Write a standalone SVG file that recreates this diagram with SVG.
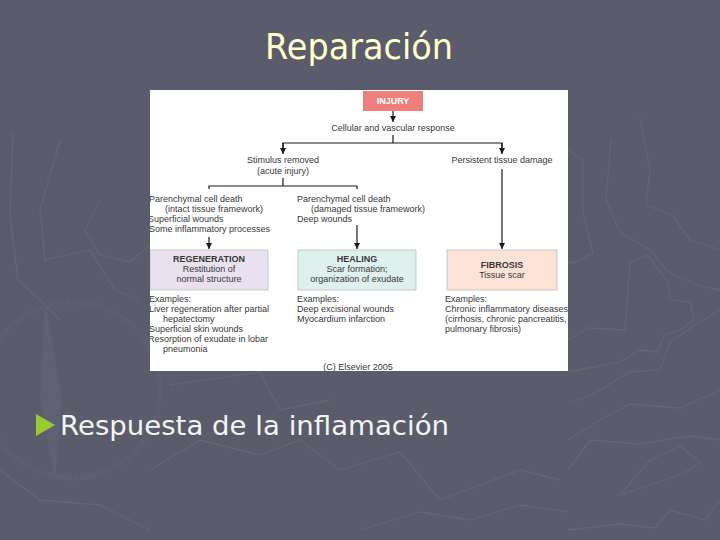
<svg xmlns="http://www.w3.org/2000/svg" width="720" height="540" viewBox="0 0 720 540">
<style>
.t{font-family:"Liberation Sans",Arial,sans-serif;font-size:9px;fill:#383838}
.c{text-anchor:middle}
.b{font-weight:bold}
.ln{stroke:#1a1a1a;stroke-width:1.2;fill:none}
.bg{stroke:#646676;stroke-width:1.3;fill:none}
.box{stroke:#bdbdbd;stroke-width:0.8}
</style>
<defs>
<marker id="ah" viewBox="0 0 10 10" refX="10" refY="5" markerWidth="6" markerHeight="6" markerUnits="userSpaceOnUse" orient="auto">
<path d="M0,0 L10,5 L0,10 z" fill="#1a1a1a"/>
</marker>
<clipPath id="clipW"><rect x="150" y="90" width="418" height="281"/></clipPath>
</defs>
<rect width="720" height="540" fill="#5a5c6b"/>
<g id="background-lines">
<polyline class="bg" points="611,140 606,200 620,232 650,250 668,272 700,286 720,290"/>
<polyline class="bg" points="640,118 650,170 646,205 672,215 690,240 720,250"/>
<polyline class="bg" points="568,150 583,160 583,213 593,253 573,263 568,262"/>
<polyline class="bg" points="568,340 588,328 625,330 630,262 648,255 668,282 670,300 690,302 694,320 680,330 664,335 658,352 640,350 620,362 568,372"/>
<polyline class="bg" points="720,310 700,322 670,342 660,370 630,372 590,396 570,402"/>
<polyline class="bg" points="720,390 680,408 630,404 600,420 568,440"/>
<polyline class="bg" points="568,470 590,440 640,444 690,436 720,440"/>
<polyline class="bg" points="620,495 650,460 680,446 700,462 690,470 660,482 620,495"/>
<polyline class="bg" points="568,530 620,524 655,528 670,510 705,520 720,500"/>
<polyline class="bg" points="13,133 10,215 18,280 40,300 60,320"/>
<polyline class="bg" points="60,140 40,210 45,260 90,250 115,290 140,300"/>
<polyline class="bg" points="100,200 85,230 100,255 130,262 150,245"/>
<polyline class="bg" points="150,470 200,440 260,455 300,440 340,470 400,452 440,500 520,470 560,480"/>
<polyline class="bg" points="170,385 260,372 280,410 330,400"/>
<polyline class="bg" points="360,530 420,512 470,520 520,505 568,512"/>
<polyline class="bg" points="0,470 40,500 100,505 150,530"/>
<circle cx="72" cy="390" r="88" fill="none" stroke="#636575" stroke-width="5" stroke-dasharray="1 2"/>
<path d="M45,300 L62,400 L55,480 L40,400 z" fill="#5f6170"/>
</g>
<text x="359" y="59" font-family="'DejaVu Sans',Tahoma,sans-serif" font-size="35" fill="#ffffcc" text-anchor="middle" textLength="188" lengthAdjust="spacingAndGlyphs">Reparación</text>
<path d="M36,414 L55,425 L36,436 z" fill="#99cc33"/>
<text x="60" y="435" font-family="'DejaVu Sans',Tahoma,sans-serif" font-size="27" fill="#f4f4f4" textLength="389" lengthAdjust="spacingAndGlyphs">Respuesta de la inflamación</text>
<rect x="150" y="90" width="418" height="281" fill="#ffffff"/>
<g clip-path="url(#clipW)">
<g id="injury">
<rect x="363" y="91" width="60" height="20" fill="#ef7f7c"/>
<text class="t c b" x="393" y="104" style="fill:#ffffff">INJURY</text>
</g>
<g id="cellular"><text class="t c" x="393" y="131">Cellular and vascular response</text></g>
<g id="stimulus"><text class="t c" x="283" y="163">Stimulus removed</text><text class="t c" x="283" y="174">(acute injury)</text></g>
<g id="persistent"><text class="t c" x="502" y="163">Persistent tissue damage</text></g>
<g id="intact">
<text class="t" x="149" y="202">Parenchymal cell death</text>
<text class="t" x="165" y="212">(intact tissue framework)</text>
<text class="t" x="148" y="222">Superficial wounds</text>
<text class="t" x="149" y="232">Some inflammatory processes</text>
</g>
<g id="damaged">
<text class="t" x="297" y="202">Parenchymal cell death</text>
<text class="t" x="311" y="212">(damaged tissue framework)</text>
<text class="t" x="297" y="222">Deep wounds</text>
</g>
<g id="regeneration">
<rect class="box" x="150" y="250" width="118" height="40" fill="#e9e1f0"/>
<text class="t c b" x="209" y="262">REGENERATION</text>
<text class="t c" x="209" y="272">Restitution of</text>
<text class="t c" x="209" y="282">normal structure</text>
</g>
<g id="healing">
<rect class="box" x="298" y="250" width="118" height="40" fill="#dff1ee"/>
<text class="t c b" x="357" y="262">HEALING</text>
<text class="t c" x="357" y="272">Scar formation;</text>
<text class="t c" x="357" y="282">organization of exudate</text>
</g>
<g id="fibrosis">
<rect class="box" x="447" y="250" width="110" height="40" fill="#fce3d6"/>
<text class="t c b" x="502" y="268">FIBROSIS</text>
<text class="t c" x="502" y="278">Tissue scar</text>
</g>
<g id="examples-regeneration">
<text class="t" x="149" y="302">Examples:</text>
<text class="t" x="149" y="312">Liver regeneration after partial</text>
<text class="t" x="163" y="322">hepatectomy</text>
<text class="t" x="149" y="332">Superficial skin wounds</text>
<text class="t" x="148" y="342">Resorption of exudate in lobar</text>
<text class="t" x="163" y="352">pneumonia</text>
</g>
<g id="examples-healing">
<text class="t" x="297" y="302">Examples:</text>
<text class="t" x="297" y="312">Deep excisional wounds</text>
<text class="t" x="297" y="322">Myocardium infarction</text>
</g>
<g id="examples-fibrosis">
<text class="t" x="445" y="302">Examples:</text>
<text class="t" x="445" y="312">Chronic inflammatory diseases</text>
<text class="t" x="445" y="322">(cirrhosis, chronic pancreatitis,</text>
<text class="t" x="445" y="332">pulmonary fibrosis)</text>
</g>
<g id="copyright"><text class="t c" x="358" y="370">(C) Elsevier 2005</text></g>
<g id="connectors">
<line class="ln" x1="393" y1="111" x2="393" y2="122" marker-end="url(#ah)"/>
<polyline class="ln" points="393,135 393,143"/>
<polyline class="ln" points="283,153 283,143 502,143 502,153"/>
<line class="ln" x1="283" y1="143" x2="283" y2="154" marker-end="url(#ah)"/>
<line class="ln" x1="502" y1="143" x2="502" y2="154" marker-end="url(#ah)"/>
<polyline class="ln" points="283,178 283,186"/>
<polyline class="ln" points="209,189 209,186 357,186 357,189"/>
<line class="ln" x1="209" y1="237" x2="209" y2="249" marker-end="url(#ah)"/>
<line class="ln" x1="357" y1="225" x2="357" y2="249" marker-end="url(#ah)"/>
<line class="ln" x1="502" y1="169" x2="502" y2="249" marker-end="url(#ah)"/>
</g>
</g>
</svg>
